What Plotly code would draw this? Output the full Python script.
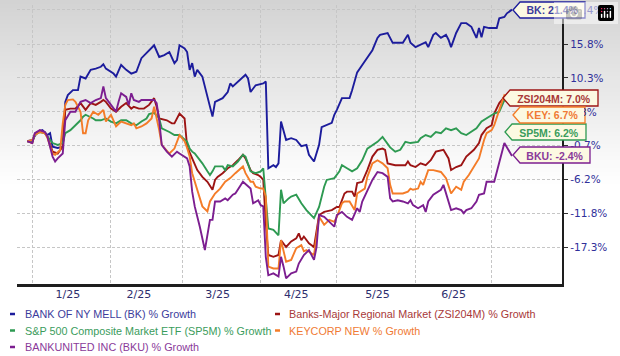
import plotly.graph_objects as go
import pandas as pd

# ---------------- data (day offsets from 2025-01-01, % growth) ----------------
BK_DAYS = [-2,0,2,4,6,7,8,10,12,13,14,16,18,19,21,23,25,27,28,29,32,33,35,37,39,41,43,45,47,48,
           50,52,54,56,57,58,60,61,62,63,64,65,67,69,70,71,72,75,77,78,79,81,84,85,86,88,91,92,93,95,
           96,97,98,100,102,104,106,108,109,111,113,114,116,118,119,120,122,125,126,128,
           130,132,134,136,137,140,141,142,143,146,148,149,151,154,155,156,158,159,161,163,
           164,165,167,169,171,173,174,175,176,177,178,180,183,184,186,187,189]
BK_PCT = [0.0,0.2,1.5,1.8,1.0,1.3,-0.9,-1.1,-0.9,6.4,7.5,8.3,8.3,10.5,10.2,11.6,11.8,12.1,12.5,11.8,
          11.0,10.5,12.4,11.6,11.0,11.3,13.5,14.3,15.1,15.6,13.7,14.0,14.5,12.7,13.2,15.6,15.1,14.5,11.6,12.7,
          10.5,11.6,10.5,7.0,5.3,4.0,6.4,7.0,8.0,9.4,8.9,9.7,10.8,10.2,8.0,9.1,9.4,9.7,-4.4,-3.9,
          -4.2,-3.6,3.2,0.2,0.5,0.2,-0.8,-0.6,-2.2,-3.3,-0.6,2.3,2.6,3.0,4.3,5.1,7.0,7.0,8.3,11.2,
          12.4,13.7,14.8,16.8,17.3,17.6,16.8,16.0,16.0,16.0,17.3,16.0,15.3,16.0,16.1,15.3,17.3,17.6,16.8,17.3,
          16.5,15.3,17.6,19.2,19.2,18.6,17.6,16.8,18.4,16.9,18.6,18.4,18.4,20.0,20.2,20.8,21.4]

ZSI_DAYS = [-2,0,1,3,5,6,8,10,12,13,15,17,19,21,23,25,27,28,29,31,33,35,37,39,40,42,44,46,48,49,
            50,53,55,56,58,60,61,63,65,67,69,71,72,73,75,77,79,81,83,84,86,87,89,90,91,92,93,95,97,98,
            100,102,104,105,106,107,109,111,113,115,118,120,121,123,124,126,127,128,130,132,134,136,138,139,
            140,143,145,147,148,149,151,153,155,157,159,162,164,165,167,169,171,174,176,177,179,181,182,184,186,189]
ZSI_PCT = [0.0,-0.3,1.2,1.7,1.3,0.7,-1.7,-2.0,-0.9,5.1,5.3,5.3,6.2,5.1,6.2,5.9,6.4,6.7,6.4,5.3,4.8,5.6,6.2,5.3,5.6,5.3,5.3,5.9,7.0,5.6,
           3.7,3.4,2.9,2.9,4.5,3.7,-0.9,-2.8,-4.7,-5.8,-6.6,-7.9,-6.3,-5.8,-5.2,-4.4,-3.9,-3.1,-2.2,-2.8,-4.7,-5.2,-5.5,-5.8,-6.3,-13.3,-18.5,-18.8,-18.5,-16.1,
           -17.2,-16.3,-15.8,-15.0,-16.1,-15.5,-16.6,-17.2,-12.0,-11.5,-11.2,-10.7,-10.7,-8.5,-8.2,-8.2,-9.0,-6.8,-6.6,-4.7,-2.5,-1.4,-1.2,-1.4,
           -3.6,-3.9,-3.9,-3.9,-3.3,-3.9,-4.2,-3.6,-3.9,-3.1,-1.7,-1.4,-2.8,-4.7,-4.2,-3.9,-2.5,-1.4,-0.3,1.0,2.1,2.6,4.5,6.2,7.2,7.0]

SP5M_DAYS = [-2,0,1,3,5,6,8,10,12,13,15,17,19,20,21,24,25,27,29,31,33,35,37,39,41,43,45,46,48,50,
             51,54,56,58,61,62,63,64,65,67,69,70,71,72,75,76,77,79,81,83,84,86,88,90,91,92,93,95,97,98,
             99,101,102,104,106,108,111,113,115,116,119,121,122,124,126,128,130,132,134,136,138,141,143,145,
             147,149,152,153,155,157,159,161,163,165,167,169,171,173,175,177,179,181,182,184,186,189]
SP5M_PCT = [0.0,0.0,1.0,1.5,1.3,0.7,-0.3,-0.6,-0.3,1.3,1.8,2.6,3.4,4.0,4.3,3.7,3.4,3.4,3.7,3.2,2.9,3.4,3.4,2.9,2.6,3.2,3.7,4.4,4.6,3.7,
            2.1,1.5,1.0,1.0,-0.1,-1.2,-1.7,-2.0,-2.5,-3.6,-4.9,-5.5,-4.9,-4.1,-4.1,-4.7,-3.9,-4.1,-3.3,-2.2,-2.5,-4.9,-5.2,-4.9,-4.4,-10.1,-14.2,-14.4,-15.3,-7.9,
            -10.1,-9.3,-9.0,-8.7,-10.1,-11.2,-12.5,-10.7,-7.4,-6.3,-6.0,-4.9,-3.9,-4.4,-4.9,-4.4,-3.1,-1.2,-0.6,-0.1,0.7,-1.0,-1.7,-1.4,
            -0.1,-0.3,-0.1,0.5,1.0,0.7,1.5,1.3,2.1,1.8,2.1,1.3,1.0,1.5,2.1,3.2,3.7,4.3,4.5,4.8,6.7,6.2]

KEY_DAYS = [-2,0,1,3,5,6,8,9,11,12,13,14,16,17,19,20,21,22,24,26,28,29,31,33,35,37,39,40,41,43,
            45,47,48,50,51,54,56,58,60,61,62,63,65,67,69,70,72,74,76,78,80,82,83,84,86,87,88,90,91,92,
            93,95,97,98,99,100,102,104,106,107,108,110,111,113,115,117,119,120,122,123,125,127,128,131,
            132,134,136,138,140,141,142,144,146,148,149,150,152,153,154,156,158,161,163,165,167,169,170,172,
            174,176,178,179,181,182,184,186,189]
KEY_PCT = [0.0,0.2,1.0,1.5,1.3,0.5,-2.0,-2.2,-1.4,2.9,5.9,6.7,6.8,6.4,4.8,1.3,1.3,3.4,4.8,4.3,5.1,3.2,4.3,2.4,3.2,2.9,2.6,2.9,2.1,2.4,
           2.9,3.7,5.6,1.8,-0.6,-2.0,-1.2,1.0,0.0,-1.1,-2.5,-5.2,-7.9,-10.6,-11.4,-9.8,-8.5,-7.7,-6.6,-6.0,-5.2,-4.4,-4.1,-5.2,-6.6,-6.6,-7.4,-7.7,-7.7,-9.0,
           -20.4,-20.7,-20.7,-16.1,-17.7,-19.6,-19.3,-17.4,-16.9,-17.9,-17.7,-18.2,-18.5,-12.3,-13.6,-12.8,-13.1,-12.3,-10.1,-9.8,-9.8,-11.2,-8.5,-7.7,
           -5.8,-3.6,-3.1,-3.6,-4.4,-7.1,-8.5,-8.5,-8.5,-8.2,-7.7,-7.9,-7.7,-6.6,-7.1,-4.7,-4.7,-5.0,-6.0,-8.5,-7.4,-7.9,-6.6,-5.5,
           -4.1,-2.8,0.2,1.3,1.8,2.6,5.1,7.5,6.7]

BKU_DAYS = [-2,0,1,3,5,6,8,9,10,12,13,15,17,19,21,23,25,27,28,29,31,33,34,35,37,38,39,40,42,43,
            45,46,47,48,49,50,51,53,55,57,58,60,61,62,63,64,66,68,69,70,71,72,74,76,77,79,80,82,83,86,
            87,89,90,91,92,93,95,97,98,99,100,102,104,105,107,109,111,112,113,115,117,119,120,122,
            124,126,128,129,130,132,134,136,138,140,141,142,144,146,148,149,150,152,154,155,156,158,161,162,
            163,165,167,169,170,171,173,175,176,178,179,182,186,189]
BKU_PCT = [0.0,-0.3,1.3,1.8,1.5,0.7,-2.5,-3.3,-2.8,-2.0,3.4,4.8,4.8,6.4,6.7,6.2,6.7,7.0,8.9,7.0,5.9,4.8,6.4,7.8,7.2,5.9,7.8,6.7,6.4,6.7,
           6.7,6.7,6.7,6.7,6.2,3.4,-0.6,-1.7,-2.5,-1.7,-2.0,-2.5,-2.8,-4.1,-8.2,-10.6,-13.9,-17.7,-15.5,-12.8,-12.8,-9.8,-9.8,-9.3,-9.6,-8.7,-8.5,-7.1,-6.6,-7.7,
           -10.1,-9.6,-10.4,-10.6,-18.8,-21.8,-21.5,-22.0,-18.8,-20.4,-22.3,-21.5,-21.2,-19.9,-18.5,-17.7,-19.3,-17.2,-12.0,-12.3,-13.1,-13.9,-12.0,-11.5,
           -12.3,-12.8,-10.9,-11.5,-9.8,-7.9,-6.3,-5.0,-5.2,-5.8,-9.3,-9.8,-9.6,-9.8,-10.1,-9.6,-10.4,-10.9,-10.4,-11.5,-9.8,-8.7,-7.9,-7.1,
           -8.5,-11.2,-10.9,-11.2,-11.7,-11.2,-10.9,-9.8,-8.7,-8.5,-6.6,-6.6,-0.3,-2.4]

Y_TICKS = [-17.3, -11.8, -6.2, -0.7, 4.8, 10.3, 15.8, 21.4]
Y_TICKS_UNDER_TAGS = [21.4, 4.8]   # tick labels that the end-of-line tags cover
X_TICK_DATES = ["2025-01-15", "2025-02-12", "2025-03-15", "2025-04-15", "2025-05-17", "2025-06-16"]
X_TICK_TEXT = ["1/25", "2/25", "3/25", "4/25", "5/25", "6/25"]
MONTH_STARTS = ["2025-01-01", "2025-02-01", "2025-03-01", "2025-04-01", "2025-05-01", "2025-06-01", "2025-07-01"]

BASE = pd.Timestamp("2025-01-01")


def to_dates(days):
    return [BASE + pd.Timedelta(days=d) for d in days]


SERIES = [
    # key, legend text, short, days, pct, line colour, text colour
    ("BK", "BANK OF NY MELL (BK) % Growth", "BK", BK_DAYS, BK_PCT, "#1c1c9c", "#3c3c9c"),
    ("ZSI", "Banks-Major Regional Market (ZSI204M) % Growth", "ZSI204M", ZSI_DAYS, ZSI_PCT, "#9c1414", "#a83838"),
    ("SP5M", "S&P 500 Composite Market ETF (SP5M) % Growth", "SP5M", SP5M_DAYS, SP5M_PCT, "#2e9a52", "#3a9c5c"),
    ("KEY", "KEYCORP NEW % Growth", "KEY", KEY_DAYS, KEY_PCT, "#f47c28", "#f07a34"),
    ("BKU", "BANKUNITED INC (BKU) % Growth", "BKU", BKU_DAYS, BKU_PCT, "#7c1e90", "#8a3a9a"),
]

# ---------------- geometry helpers (pixels -> paper) ----------------
W, H = 620, 356
ML, MR, MT, MB = 17, 58, 5, 72
PW, PH = W - ML - MR, H - MT - MB
TICK_FONT = dict(family="DejaVu Sans, Verdana", size=10.5, color="#30309a")


def px(xp):
    return (xp - ML) / PW


def py(yp):
    return (H - MB - yp) / PH


fig = go.Figure()
for key, leg, short, days, pct, lc, tc in SERIES:
    assert len(days) == len(pct), key
    fig.add_trace(go.Scatter(x=to_dates(days), y=pct, mode="lines", name=leg,
                             line=dict(color=lc, width=1.9), showlegend=False,
                             hoverinfo="skip"))

shapes = []
# background gradient (grey at top fading to white)
for i in range(0, 48):
    y0p = i * 4
    t = min(1.0, (y0p + 2) / 185.0)
    c = int(round(211 + (255 - 211) * t))
    shapes.append(dict(type="rect", xref="paper", yref="paper", layer="below",
                       x0=px(-2), x1=px(W + 2), y0=py(y0p + 4.5), y1=py(y0p),
                       fillcolor=f"rgb({c},{c},{c})", line=dict(width=0)))

annotations = []
# y tick labels that sit under the tags: drawn first so the tags paint over them
for v in Y_TICKS_UNDER_TAGS:
    annotations.append(dict(xref="paper", yref="y", x=px(569), y=v, xanchor="left",
                            yanchor="middle", showarrow=False, borderpad=0,
                            text=f"{v:.1f}%", font=TICK_FONT))

# end-of-line tag labels
TAGS = {
    "BK": (513, 585, 10),
    "ZSI": (503, 598, 98),
    "KEY": (513, 585, 115),
    "SP5M": (505, 586, 132),
    "BKU": (513, 590, 155),
}
TAG_FILL = "#fcf9e2"
for key, leg, short, days, pct, lc, tc in SERIES:
    x0, x1, yc = TAGS[key]
    hh = 8
    path = (f"M {px(x0)},{py(yc)} L {px(x0 + 7)},{py(yc - hh)} L {px(x1)},{py(yc - hh)} "
            f"L {px(x1)},{py(yc + hh)} L {px(x0 + 7)},{py(yc + hh)} Z")
    shapes.append(dict(type="path", xref="paper", yref="paper", layer="above", path=path,
                       fillcolor=TAG_FILL, line=dict(color=lc, width=1.3)))
    annotations.append(dict(xref="paper", yref="paper", x=px((x0 + 6 + x1) / 2), y=py(yc),
                            xanchor="center", yanchor="middle", showarrow=False,
                            width=(x1 - x0 - 6) - 3, height=2 * hh - 3, borderpad=0,
                            bgcolor=TAG_FILL, borderwidth=0, align="center",
                            text=f"<b>{short}: {pct[-1]:.1f}%</b>",
                            font=dict(family="Liberation Sans, Arial", size=10.5, color=tc)))

# legend (two columns)
LEG_POS = {
    "BK": (10, 23, 314),
    "ZSI": (275, 287, 314),
    "SP5M": (10, 23, 330.5),
    "KEY": (275, 287, 330.5),
    "BKU": (10, 23, 347),
}
for key, leg, short, days, pct, lc, tc in SERIES:
    dx, tx, ty = LEG_POS[key]
    shapes.append(dict(type="line", xref="paper", yref="paper", x0=px(dx), x1=px(dx + 5),
                       y0=py(ty), y1=py(ty), line=dict(color=lc, width=2.5)))
    annotations.append(dict(xref="paper", yref="paper", x=px(tx), y=py(ty), xanchor="left",
                            yanchor="middle", showarrow=False, text=leg,
                            font=dict(family="Liberation Sans, Arial", size=10.8, color=tc)))

x_lo = BASE + pd.Timedelta(days=(ML - 32.3) / 2.538)
x_hi = BASE + pd.Timedelta(days=(W - MR - 32.3) / 2.538)

fig.update_layout(
    width=W, height=H, margin=dict(l=ML, r=MR, t=MT, b=MB, pad=0, autoexpand=False),
    paper_bgcolor="white", plot_bgcolor="rgba(0,0,0,0)",
    shapes=shapes, annotations=annotations, showlegend=False,
    xaxis=dict(type="date", range=[x_lo, x_hi], tickmode="array", automargin=False,
               tickvals=X_TICK_DATES, ticktext=X_TICK_TEXT, ticks="", showgrid=False,
               ticklabelstandoff=-2,
               zeroline=False, showline=True, linecolor="#1e1e1e", linewidth=2.5,
               tickfont=dict(family="DejaVu Sans, Verdana", size=11, color="#2e2e6e"),
               minor=dict(tickmode="array", tickvals=MONTH_STARTS, showgrid=True,
                          gridcolor="#c6c6c6", griddash="3px,2px", gridwidth=1, ticks=""),
               fixedrange=True),
    yaxis=dict(side="right", range=[-23.22, 22.15], tickmode="array", tickvals=Y_TICKS,
               automargin=False,
               ticktext=["" if v in Y_TICKS_UNDER_TAGS else f"{v:.1f}%" for v in Y_TICKS],
               showgrid=True, gridcolor="#c6c6c6",
               griddash="3px,2px", gridwidth=1, zeroline=False, showline=True,
               linecolor="#1e1e1e", linewidth=2.2, ticks="outside", ticklen=4,
               tickcolor="#333333", tickwidth=1, tickfont=TICK_FONT,
               fixedrange=True),
)

fig.write_html("out.html",
               post_script="document.body.style.margin='0';document.body.style.overflow='hidden';")
